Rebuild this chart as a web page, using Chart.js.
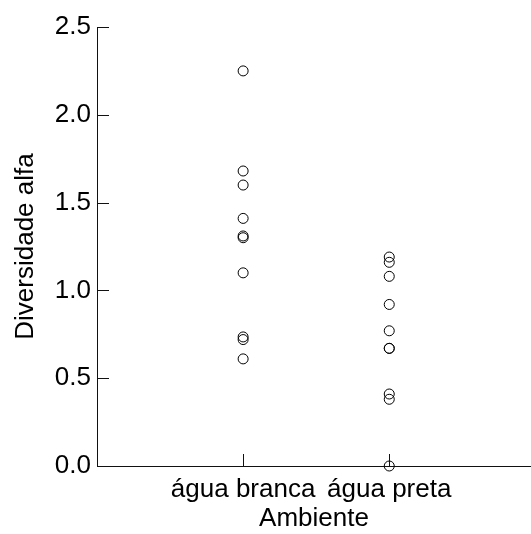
<!DOCTYPE html>
<html>
<head>
<meta charset="utf-8">
<script src="https://cdn.jsdelivr.net/npm/chart.js@4.4.1/dist/chart.umd.min.js"></script>
<style>
	html, body { margin: 0; padding: 0; background: #fff; overflow: hidden; }
	canvas { display: block; }
</style>
</head>
<body>
<canvas id="alphaChart" width="531" height="534"></canvas>
<script>
// categories on the x axis (Ambiente)
const categories = ["água branca", "água preta"];

// alpha diversity values
const aguaBranca = [2.25, 1.68, 1.6, 1.41, 1.31, 1.3, 1.1, 0.735, 0.72, 0.61];
const aguaPreta = [1.19, 1.16, 1.08, 0.92, 0.77, 0.67, 0.67, 0.41, 0.38, 0.0];

// y tick values
const yTicks = [0, 0.5, 1.0, 1.5, 2.0, 2.5];

const font = { family: "'Liberation Sans', Arial, sans-serif", size: 26 };

// short ticks drawn inward from the axes
const inwardTicks = {
	id: "inwardTicks",
	afterDraw(chart) {
		const ctx = chart.ctx;
		const x = chart.scales.x;
		const y = chart.scales.y;
		const area = chart.chartArea;
		ctx.save();
		ctx.strokeStyle = "#111";
		ctx.lineWidth = 1;
		ctx.beginPath();
		y.ticks.forEach((t) => {
			const py = Math.round(y.getPixelForValue(t.value)) + 0.5;
			ctx.moveTo(area.left, py);
			ctx.lineTo(area.left + 12, py);
		});
		x.ticks.forEach((t) => {
			const px = Math.round(x.getPixelForValue(t.value)) + 0.5;
			ctx.moveTo(px, area.bottom);
			ctx.lineTo(px, area.bottom - 12);
		});
		ctx.stroke();
		ctx.restore();
	},
};

const pointStyle = {
	pointRadius: 5,
	pointHoverRadius: 5,
	pointBorderWidth: 1,
	pointBorderColor: "#000",
	pointBackgroundColor: "rgba(0,0,0,0)",
	clip: false,
};

const ctx = document.getElementById("alphaChart").getContext("2d");
new Chart(ctx, {
	type: "scatter",
	data: {
		datasets: [
			{ label: categories[0], data: aguaBranca.map((v) => ({ x: 0, y: v })), ...pointStyle },
			{ label: categories[1], data: aguaPreta.map((v) => ({ x: 1, y: v })), ...pointStyle },
		],
	},
	plugins: [inwardTicks],
	options: {
		responsive: false,
		animation: false,
		devicePixelRatio: 1,
		layout: { autoPadding: false, padding: { top: 27, right: 0, bottom: 0, left: 0 } },
		plugins: { legend: { display: false }, tooltip: { enabled: false } },
		scales: {
			x: {
				type: "linear",
				min: -1,
				max: 1.97,
				afterBuildTicks: (scale) => {
					scale.ticks = categories.map((c, i) => ({ value: i }));
				},
				afterFit: (scale) => {
					scale.height = 68;
					scale.paddingLeft = 0;
					scale.paddingRight = 0;
				},
				ticks: {
					color: "#000",
					font: font,
					padding: 8,
					maxRotation: 0,
					autoSkip: false,
					callback: (v) => categories[v],
				},
				grid: { display: true, drawOnChartArea: false, drawTicks: false },
				border: { display: true, color: "#111", width: 1 },
				title: {
					display: true,
					text: "Ambiente",
					color: "#000",
					font: font,
					padding: { top: 0, bottom: 0 },
				},
			},
			y: {
				min: 0,
				max: 2.5,
				afterBuildTicks: (scale) => {
					scale.ticks = yTicks.map((v) => ({ value: v }));
				},
				afterFit: (scale) => {
					scale.width = 97;
					scale.paddingTop = 0;
					scale.paddingBottom = 0;
				},
				ticks: {
					color: "#000",
					font: font,
					padding: 6,
					callback: (v) => v.toFixed(1),
				},
				grid: { display: true, drawOnChartArea: false, drawTicks: false },
				border: { display: true, color: "#111", width: 1 },
				title: {
					display: true,
					text: "Diversidade alfa",
					color: "#000",
					font: font,
					padding: { top: 10, bottom: 17 },
				},
			},
		},
	},
});
</script>
</body>
</html>
